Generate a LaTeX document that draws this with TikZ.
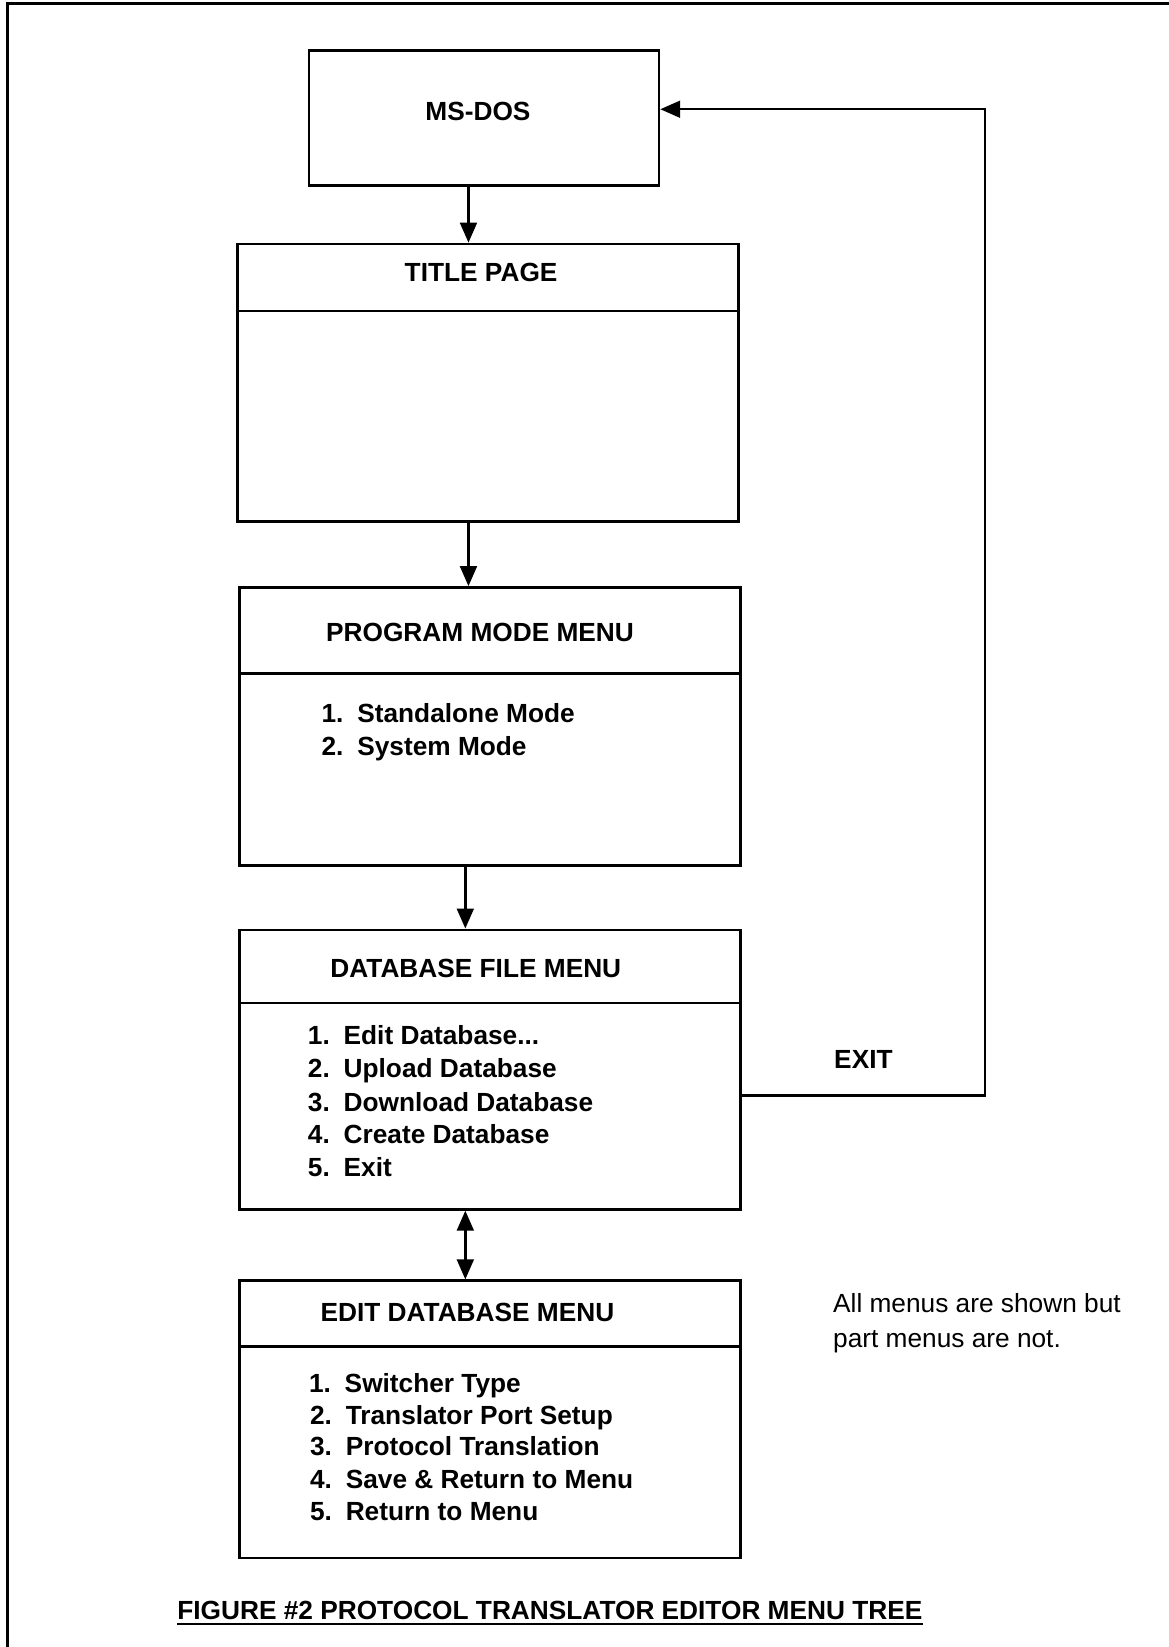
\documentclass[tikz,border=0pt]{standalone}
\usepackage{fontspec}
\setmainfont{Liberation Sans}
\usetikzlibrary{arrows.meta}
\begin{document}
\begin{tikzpicture}[x=1pt,y=-1pt,
  box/.style={draw,line width=2.6pt,inner sep=0pt,anchor=north west},
  menubox/.style={box,minimum width=477pt},
  divider/.style={line width=2.6pt},
  heading/.style={font=\fontsize{25}{30}\selectfont\bfseries,anchor=base,inner sep=0pt},
  item/.style={font=\fontsize{25}{30}\selectfont\bfseries,anchor=base west,inner sep=0pt},
  note/.style={font=\fontsize{25}{30}\selectfont,anchor=base west,inner sep=0pt},
  tip/.tip={Triangle[length=19pt,width=16pt]},
  arr/.style={line width=2.3pt,-tip},
  darr/.style={line width=2.3pt,tip-tip}]
\useasboundingbox (0,0) rectangle (1112,1568);
% page frame
\draw[line width=3pt] (7,1600) -- (7,3) -- (1130,3);

% boxes
\node[box,minimum width=333pt,minimum height=128pt] (msdos) at (293,47) {};
\node[menubox,minimum height=264pt] (title) at (225,231) {};
\node[menubox,minimum height=265pt] (prog) at (227,558) {};
\node[menubox,minimum height=266pt] (dbf) at (227,884) {};
\node[menubox,minimum height=264pt] (edit) at (227,1218) {};

% header dividers
\draw[divider] (title.west |- 0,296) -- (title.east |- 0,296);
\draw[divider] (prog.west |- 0,641) -- (prog.east |- 0,641);
\draw[divider] (dbf.west |- 0,955) -- (dbf.east |- 0,955);
\draw[divider] (edit.west |- 0,1282) -- (edit.east |- 0,1282);

% headings
\node[heading] (hmsdos) at (455,115) {MS-DOS};
\node[heading] (htitle) at (458,268) {TITLE PAGE};
\node[heading] (hprog) at (457,611) {PROGRAM MODE MENU};
\node[heading] (hdbf) at (453,931) {DATABASE FILE MENU};
\node[heading] (hedit) at (445,1258) {EDIT DATABASE MENU};

% menu entries
\newcommand{\entry}[2]{\makebox[34pt][l]{#1}#2}
\node[item] (p1) at (306,688) {\entry{1.}{Standalone Mode}};
\node[item] (p2) at (306,719) {\entry{2.}{System Mode}};

\node[item] (d1) at (293,994) {\entry{1.}{Edit Database...}};
\node[item] (d2) at (293,1026) {\entry{2.}{Upload Database}};
\node[item] (d3) at (293,1058) {\entry{3.}{Download Database}};
\node[item] (d4) at (293,1089) {\entry{4.}{Create Database}};
\node[item] (d5) at (293,1120) {\entry{5.}{Exit}};

\node[item] (e1) at (294,1326) {\entry{1.}{Switcher Type}};
\node[item] (e2) at (295,1356) {\entry{2.}{Translator Port Setup}};
\node[item] (e3) at (295,1386) {\entry{3.}{Protocol Translation}};
\node[item] (e4) at (295,1417) {\entry{4.}{Save \& Return to Menu}};
\node[item] (e5) at (295,1448) {\entry{5.}{Return to Menu}};

% connectors
\draw[arr] (msdos.south -| 446,0) -- (title.north -| 446,0);
\draw[arr] (title.south -| 446,0) -- (prog.north -| 446,0);
\draw[arr] (prog.south -| 443,0) -- (dbf.north -| 443,0);
\draw[darr] (dbf.south -| 443,0) -- (edit.north -| 443,0);

% exit loop back to MS-DOS
\coordinate (exitcorner) at (938,1043);
\draw[arr] (dbf.east |- exitcorner) -- (exitcorner) -- (exitcorner |- 0,104) -- (msdos.east |- 0,104);
\node[heading] (exitlabel) at (822,1017) {EXIT};

% remark
\node[note] (n1) at (793,1250) {All menus are shown but};
\node[note] (n2) at (793,1283) {part menus are not.};

% caption
\node[heading] (caption) at (523.5,1542) {FIGURE \#2 PROTOCOL TRANSLATOR EDITOR MENU TREE};
\draw[line width=2.4pt] ([yshift=-4pt]caption.base west) -- ([yshift=-4pt]caption.base east);
\end{tikzpicture}
\end{document}
